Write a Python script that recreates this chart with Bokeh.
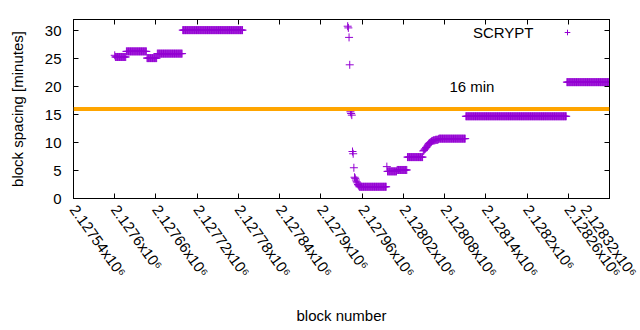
import math
import numpy as np
from bokeh.plotting import figure
from bokeh.models import (Range1d, FixedTicker, LinearAxis, Span, Label, Legend,
                          LegendItem, CustomJSTickFormatter, ColumnDataSource)
from bokeh.embed import file_html
from bokeh.resources import INLINE

# ---------------- data ----------------
series_name = "SCRYPT"
threshold = 16
threshold_label = "16 min"
threshold_label_x = 2128087
threshold_label_y = 20

x_ticks = [2127540, 2127600, 2127660, 2127720, 2127780, 2127840, 2127900,
           2127960, 2128020, 2128080, 2128140, 2128200, 2128260, 2128320]
x_tick_labels = ["2.12754x10⁶", "2.1276x10⁶", "2.12766x10⁶", "2.12772x10⁶",
                 "2.12778x10⁶", "2.12784x10⁶", "2.1279x10⁶", "2.12796x10⁶",
                 "2.12802x10⁶", "2.12808x10⁶", "2.12814x10⁶", "2.1282x10⁶",
                 "2.12826x10⁶", "2.12832x10⁶"]
y_ticks = [0, 5, 10, 15, 20, 25, 30]

# runs of consecutive blocks that share one spacing value (minutes)
run_first_block = [2127600, 2127601, 2127617, 2127647, 2127662, 2127699,
                   2127956, 2127997, 2128011, 2128026, 2128072, 2128111, 2128258]
run_last_block = [2127600, 2127616, 2127646, 2127661, 2127698, 2127786,
                  2127995, 2128010, 2128025, 2128048, 2128110, 2128257, 2128319]
run_spacing = [25.6, 25.3, 26.3, 25.1, 25.9, 30.1,
               2.1, 4.85, 5.1, 7.4, 10.7, 14.7, 20.8]

# individual blocks during the transitions
single_blocks = [2127939, 2127940, 2127941, 2127942, 2127943, 2127944, 2127945,
                 2127946, 2127947, 2127948, 2127949, 2127950, 2127951, 2127952,
                 2127953, 2127954, 2127955, 2127996,
                 2128049, 2128050, 2128051, 2128052, 2128053, 2128054, 2128055,
                 2128056, 2128057, 2128058, 2128059, 2128060, 2128061, 2128062,
                 2128063, 2128064, 2128065, 2128066, 2128067, 2128068, 2128069,
                 2128070, 2128071]
single_spacing = [30.8, 30.5, 28.8, 23.9, 15.5, 15.2, 14.9,
                  8.4, 8.0, 5.5, 3.8, 3.6, 3.3, 3.0,
                  2.8, 2.5, 2.3, 5.7,
                  8.5, 8.6, 8.8, 8.9, 9.1, 9.2, 9.4,
                  9.6, 9.8, 9.9, 10.0, 10.1, 10.2, 10.3,
                  10.3, 10.4, 10.4, 10.4, 10.5, 10.5, 10.5,
                  10.5, 10.6]

# ---------------- build source ----------------
xs, ys = [], []
for a, b, v in zip(run_first_block, run_last_block, run_spacing):
    blocks = np.arange(a, b + 1)
    xs.append(blocks)
    ys.append(np.full(len(blocks), v))
xs.append(np.array(single_blocks))
ys.append(np.array(single_spacing))
order = np.argsort(np.concatenate(xs), kind="stable")
src = ColumnDataSource(dict(x=np.concatenate(xs)[order], y=np.concatenate(ys)[order]))

FONT = "Liberation Sans"
FS = "15px"
VIOLET = "#9400D3"
ANGLE = -0.95

p = figure(width=640, height=330, output_backend="svg", toolbar_location=None,
           x_range=Range1d(x_ticks[0], x_ticks[-1]), y_range=Range1d(0, 32),
           min_border_left=73, min_border_right=31, min_border_top=19,
           min_border_bottom=132)
p.background_fill_color = "white"
p.border_fill_color = "white"
p.outline_line_color = "black"
p.outline_line_width = 1
p.xgrid.visible = False
p.ygrid.visible = False

r = p.scatter(x="x", y="y", source=src, marker="cross", size=8,
              line_color=VIOLET, line_width=1)

p.add_layout(Span(location=threshold, dimension="width", line_color="#FFA500",
                  line_width=4))
p.add_layout(Label(x=threshold_label_x, y=threshold_label_y, text=threshold_label,
                   text_baseline="middle", text_align="left",
                   text_font=FONT, text_font_size=FS, text_color="black"))

# bottom axis
xa = p.xaxis[0]
xa.ticker = FixedTicker(ticks=x_ticks)
xa.major_label_overrides = {t: l for t, l in zip(x_ticks, x_tick_labels)}
xa.major_label_orientation = ANGLE
xa.major_tick_in = 5
xa.major_tick_out = 0
xa.minor_tick_line_color = None
xa.axis_line_color = "black"
xa.major_label_text_font = FONT
xa.major_label_text_font_size = FS
xa.major_label_text_color = "black"
xa.major_label_standoff = 8
xa.axis_label = "block number"
xa.axis_label_text_font = FONT
xa.axis_label_text_font_size = FS
xa.axis_label_text_font_style = "normal"
xa.axis_label_text_color = "black"
xa.axis_label_standoff = 19

# left axis
ya = p.yaxis[0]
ya.ticker = FixedTicker(ticks=y_ticks)
ya.major_tick_in = 5
ya.major_tick_out = 0
ya.minor_tick_line_color = None
ya.axis_line_color = "black"
ya.major_label_text_font = FONT
ya.major_label_text_font_size = FS
ya.major_label_text_color = "black"
ya.major_label_standoff = 12
ya.axis_label = "block spacing [minutes]"
ya.axis_label_text_font = FONT
ya.axis_label_text_font_size = FS
ya.axis_label_text_font_style = "normal"
ya.axis_label_text_color = "black"
ya.axis_label_standoff = 16

# mirrored ticks (top / right)
blank = CustomJSTickFormatter(code="return ''")
top = LinearAxis(ticker=FixedTicker(ticks=x_ticks), formatter=blank,
                 major_tick_in=5, major_tick_out=0, minor_tick_line_color=None,
                 axis_line_color="black", major_label_text_font_size="1px",
                 major_label_standoff=0)
right = LinearAxis(ticker=FixedTicker(ticks=y_ticks), formatter=blank,
                   major_tick_in=5, major_tick_out=0, minor_tick_line_color=None,
                   axis_line_color="black", major_label_text_font_size="1px",
                   major_label_standoff=0)
p.add_layout(top, "above")
p.add_layout(right, "right")

# key: title text, with the sample marker to its right (gnuplot style)
p.add_layout(Label(x=460, y=166, x_units="screen", y_units="screen",
                   text=series_name, text_align="right", text_baseline="middle",
                   text_font=FONT, text_font_size=FS, text_color="black"))
lg = Legend(items=[LegendItem(label=" ", renderers=[r])],
            location=(487, 157), glyph_width=14, glyph_height=18, padding=0,
            margin=0, spacing=0, label_standoff=0, background_fill_alpha=0,
            border_line_color=None, label_text_font=FONT,
            label_text_font_size=FS)
p.add_layout(lg)

open("out.html", "w").write(file_html(p, INLINE))
